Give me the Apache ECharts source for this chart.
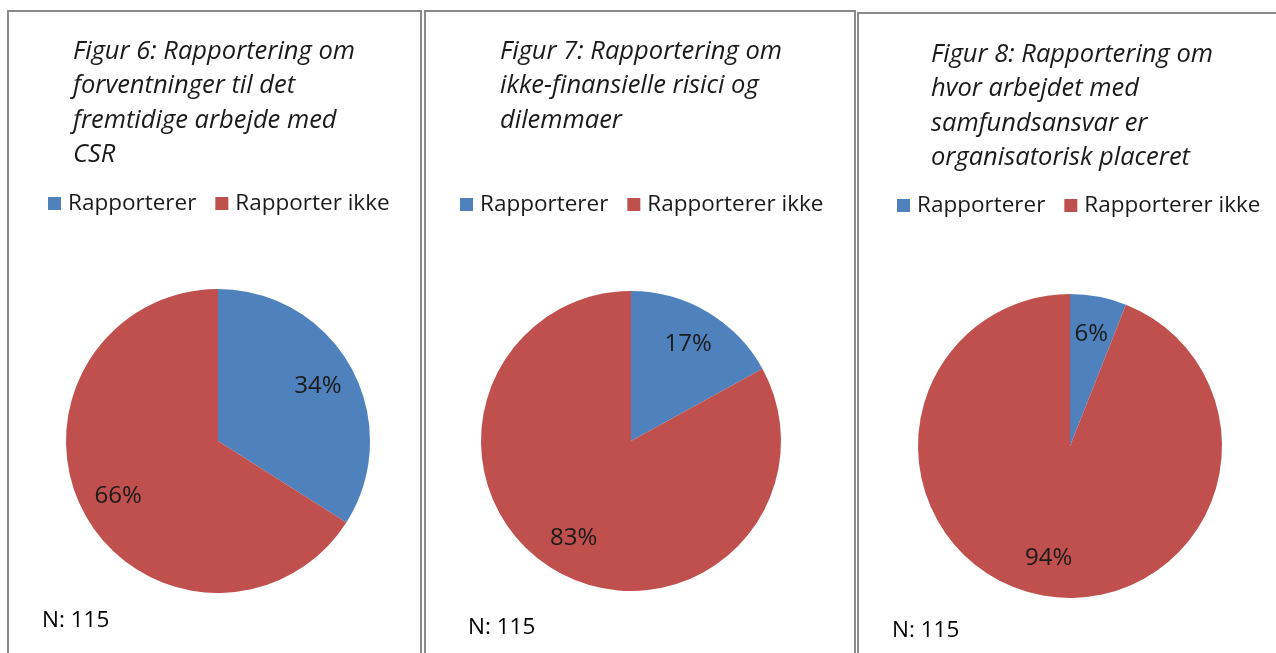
<!DOCTYPE html>
<html>
<head>
<meta charset="utf-8">
<script src="https://cdn.jsdelivr.net/npm/echarts@6/dist/echarts.min.js"></script>
<style>
html,body{margin:0;padding:0;background:#fff;}
#c{width:1276px;height:653px;}
</style>
</head>
<body>
<div id="c"></div>
<script>
// ---- data ----
const titles = [
  'Figur 6: Rapportering om\nforventninger til det\nfremtidige arbejde med\nCSR',
  'Figur 7: Rapportering om\nikke-finansielle risici og\ndilemmaer',
  'Figur 8: Rapportering om\nhvor arbejdet med\nsamfundsansvar er\norganisatorisk placeret'
];
const categories1 = ['Rapporterer', 'Rapporter ikke'];
const categories2 = ['Rapporterer', 'Rapporterer ikke'];
const categories3 = ['Rapporterer', 'Rapporterer ikke'];
const values1 = [34, 66];
const values2 = [17, 83];
const values3 = [6, 94];
const nLabels = ['N: 115', 'N: 115', 'N: 115'];
const colors = ['#4F81BD', '#C0504D'];

// ---- layout ----
const panels = [
  {x: 8, y: 11, w: 413, center: [218, 441], r: 152, titleX: 73, titleY: 34, legendX: 48, legendY: 192, nX: 42, nY: 609},
  {x: 425, y: 11, w: 430, center: [631, 441], r: 150, titleX: 500, titleY: 34, legendX: 460, legendY: 193, nX: 468, nY: 616},
  {x: 858, y: 13, w: 430, center: [1070, 446], r: 152, titleX: 931, titleY: 37, legendX: 897, legendY: 194, nX: 892, nY: 619}
];
const cats = [categories1, categories2, categories3];
const vals = [values1, values2, values3];

const FONT = 'Open Sans';
const series = [];
const legends = [];
const titleComps = [];
const graphics = [];

panels.forEach((p, i) => {
  const data = cats[i].map((n, k) => ({name: n, value: vals[i][k], itemStyle: {color: colors[k]}}));
  series.push({
    type: 'pie', center: p.center, radius: [0, p.r], startAngle: 90, clockwise: true,
    data: data, label: {show: false}, labelLine: {show: false},
    itemStyle: {borderWidth: 0}, emphasis: {disabled: true}, animation: false
  });
  series.push({
    type: 'pie', center: p.center, radius: [p.r * 0.46, p.r], startAngle: 90, clockwise: true,
    silent: true, animation: false, emphasis: {disabled: true},
    data: cats[i].map((n, k) => ({name: n, value: vals[i][k]})),
    itemStyle: {color: 'rgba(0,0,0,0)', borderWidth: 0},
    label: {show: true, position: 'inside', formatter: '{c}%', color: '#1a1a1a',
            fontFamily: FONT, fontSize: 24},
    labelLine: {show: false}
  });
  legends.push({
    left: p.legendX, top: p.legendY, padding: 0, orient: 'horizontal', itemGap: 19,
    itemWidth: 13, itemHeight: 13, icon: 'rect',
    textStyle: {fontFamily: FONT, fontSize: 22.5, color: '#1a1a1a', padding: [0, 0, 0, 2]},
    data: cats[i].map((n, k) => ({name: n, itemStyle: {color: colors[k]}}))
  });
  titleComps.push({
    text: titles[i], left: p.titleX, top: p.titleY, padding: 0,
    textStyle: {fontFamily: FONT, fontStyle: 'italic', fontWeight: 'normal', fontSize: 25.5,
                lineHeight: 34.5, color: '#1a1a1a'}
  });
  titleComps.push({
    text: nLabels[i], left: p.nX, top: p.nY, padding: 0,
    textStyle: {fontFamily: FONT, fontWeight: 'normal', fontSize: 22.5, color: '#000'}
  });
  graphics.push({
    type: 'rect', shape: {x: p.x, y: p.y, width: p.w, height: 700}, silent: true,
    style: {fill: 'none', stroke: '#8a8a8a', lineWidth: 2}, z: 100
  });
});

const chart = echarts.init(document.getElementById('c'));
chart.setOption({
  backgroundColor: '#ffffff',
  animation: false,
  title: titleComps,
  legend: legends,
  graphic: graphics,
  series: series
});
</script>
</body>
</html>
